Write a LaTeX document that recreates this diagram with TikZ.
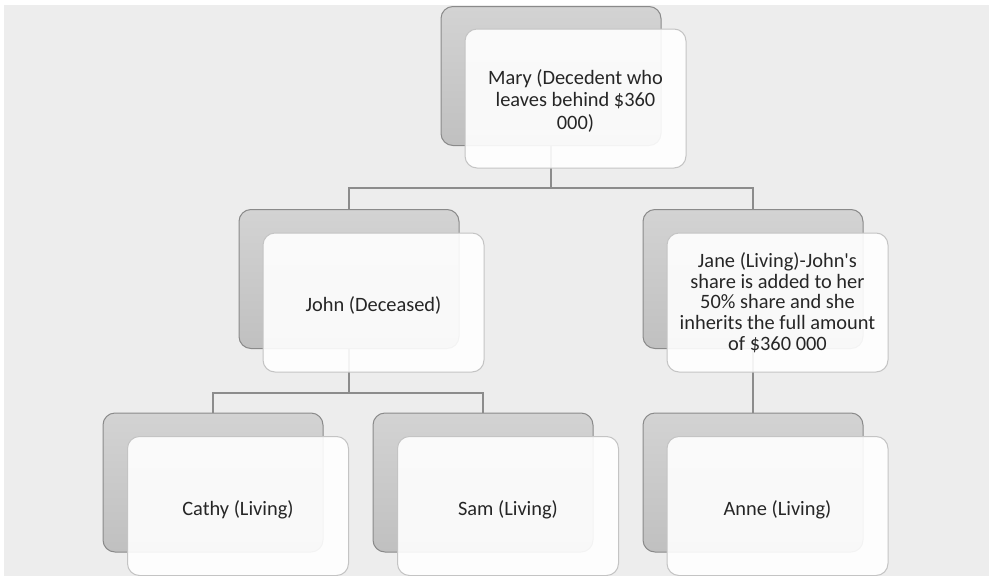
\documentclass[tikz,border=0pt]{standalone}
\usepackage{fontspec}
\setmainfont{Carlito}
\definecolor{bg}{HTML}{EDEDED}
\definecolor{backtop}{HTML}{D3D3D3}
\definecolor{backbot}{HTML}{C0C0C0}
\definecolor{backline}{HTML}{8A8A8A}
\definecolor{frontline}{HTML}{C4C4C4}
\definecolor{connc}{HTML}{8C8C8C}
\definecolor{txt}{HTML}{262626}
\tikzset{
  backbox/.style={draw=backline, line width=1pt, rounded corners=12pt,
    minimum width=220pt, minimum height=139pt, top color=backtop,
    bottom color=backbot, inner sep=0pt},
  frontbox/.style={draw=frontline, line width=1pt, rounded corners=12pt,
    minimum width=221pt, minimum height=139pt, fill=white, fill opacity=0.9,
    text opacity=1, text=txt, font=\fontsize{20.4}{21}\selectfont, align=center,
    inner sep=2pt},
  oneline/.style={text height=24pt, text depth=4.5pt},
  conn/.style={draw=connc, line width=1.6pt}
}
\begin{document}
\begin{tikzpicture}[x=1pt,y=-1pt]
\useasboundingbox (0,0) rectangle (989,576);
\fill[white] (0,0) rectangle (989,576);
\fill[bg] (4,5) rectangle (989,576);
% back boxes
\node[backbox] (maryB) at (551,76) {};
\node[backbox] (johnB) at (349,279) {};
\node[backbox] (janeB) at (753,279) {};
\node[backbox] (cathyB) at (213,482.5) {};
\node[backbox] (samB) at (483,482.5) {};
\node[backbox] (anneB) at (753,482.5) {};
% connectors
\coordinate (j1) at (551,188);
\coordinate (j2) at (349,393);
\draw[conn] (maryB.south) -- (j1) -| (johnB.north);
\draw[conn] (j1) -| (janeB.north);
\draw[conn] (johnB.south) -- (j2) -| (cathyB.north);
\draw[conn] (j2) -| (samB.north);
\draw[conn] (janeB.south) -- (anneB.north);
% front boxes
\node[frontbox, font=\fontsize{20.4}{22.5}\selectfont, text height=65.5pt, text depth=4.5pt] (maryF) at (575.5,98.5) {Mary (Decedent who\\leaves behind \$360\\000)};
\node[frontbox, oneline, text height=21.5pt] (johnF) at (373.5,302.5) {John (Deceased)};
\node[frontbox, font=\fontsize{20.4}{20.8}\selectfont] (janeF) at (777.5,302.5) {Jane (Living)-John\textquotesingle s\\share is added to her\\50\% share and she\\inherits the full amount\\of \$360 000};
\node[frontbox, oneline] (cathyF) at (238,506) {Cathy (Living)};
\node[frontbox, oneline] (samF) at (508,506) {Sam (Living)};
\node[frontbox, oneline] (anneF) at (777.5,506) {Anne (Living)};
\end{tikzpicture}
\end{document}
